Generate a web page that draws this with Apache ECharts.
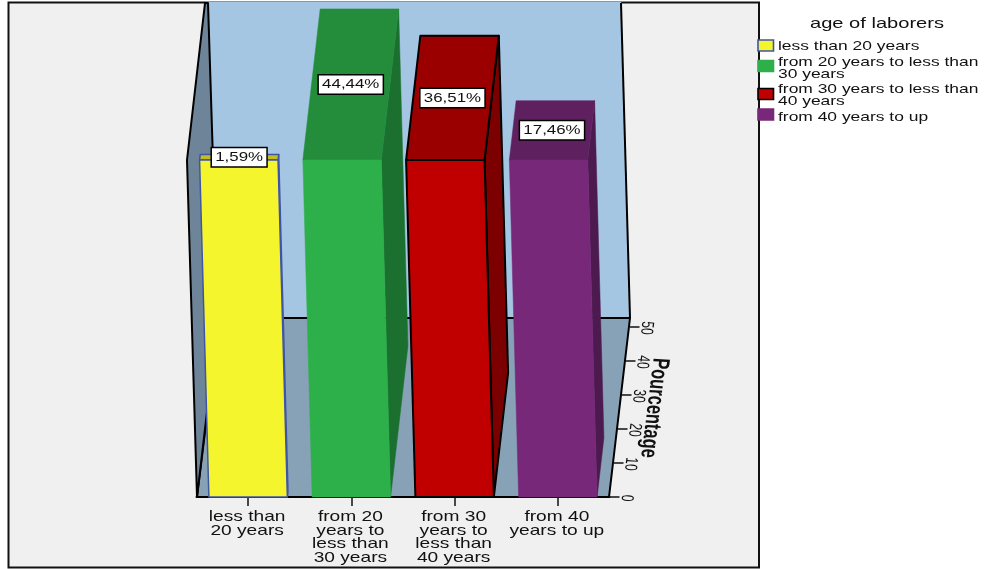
<!DOCTYPE html>
<html>
<head>
<meta charset="utf-8">
<style>html,body{margin:0;padding:0;background:#fff}#chart{width:985px;height:569px}</style>
<script src="https://cdn.jsdelivr.net/npm/echarts@6/dist/echarts.min.js"></script>
</head>
<body>
<div id="chart"></div>
<script>
// Age groups and their share of laborers, in percent
const categories = [
  'less than\n20 years',
  'from 20\nyears to\nless than\n30 years',
  'from 30\nyears to\nless than\n40 years',
  'from 40\nyears to up'
];
const legendNames = [
  'less than 20 years',
  'from 20 years to less than\n30 years',
  'from 30 years to less than\n40 years',
  'from 40 years to up'
];
const percentages = [1.59, 44.44, 36.51, 17.46];
const valueTicks = [0, 10, 20, 30, 40, 50];

// Face colours per bar
const frontColors = ['#f5f52e', '#2db04a', '#c00000', '#772878'];
const topColors = ['#c4bc22', '#238d3b', '#9b0000', '#5f2060'];
const sideColors = ['#3f55a5', '#1b702f', '#7c0000', '#4c1a4f'];
const outlineColors = ['#3f55a5', null, '#000000', null];

const FONT = '"Liberation Sans", Arial, sans-serif';
const STRETCH = 1.34;     // horizontal widening of flat text
const SCALE_STRETCH = 1.45; // widening of the text along the value scale
const FRONT_HEIGHT = 337; // height of each front face
const FRONT_LEAN = 9.3;   // sideways lean of the front face from base to top
const DEPTH_PER_UNIT = 0.39; // horizontal depth shift per percentage point
const SCALE_TILT = -95 * Math.PI / 180; // text along the slanted value scale

const FRAME = { x: 8.5, y: 2.5, w: 750.5, h: 565 };

function wideText(text, x, y, size, align) {
  return {
    type: 'text', x, y, scaleX: STRETCH, z: 20,
    style: {
      text, font: size + 'px ' + FONT, fill: '#111',
      align, verticalAlign: 'middle', lineHeight: 12
    }
  };
}

// Rotated text inside a horizontally stretched group, so its baseline follows the slant
function scaleText(text, x, y, font) {
  return {
    type: 'group', x, y, scaleX: SCALE_STRETCH,
    children: [{
      type: 'text', rotation: SCALE_TILT, z: 4,
      style: { text, font, fill: '#111', align: 'center', verticalAlign: 'middle' }
    }]
  };
}

function polygon(points, fill, stroke, z, width) {
  return {
    type: 'polygon', z, shape: { points },
    style: { fill, stroke: stroke || fill, lineWidth: stroke ? (width || 2) : 0.5, lineJoin: 'round' }
  };
}

// Panel and the three walls of the box
const backdrop = [
  { type: 'rect', z: 0, shape: { x: FRAME.x, y: FRAME.y, width: FRAME.w, height: FRAME.h },
    style: { fill: '#f0f0f0', stroke: '#111', lineWidth: 2 } },
  polygon([[207, 2], [621, 2], [630, 318], [218, 318]], '#a5c6e2', null, 1),
  polygon([[219, 318], [630, 318], [609, 497], [197, 497]], '#87a1b7', '#000', 1),
  polygon([[205, 3], [187, 160], [197, 497], [218, 318], [208, 3]], '#6e8599', '#000', 1),
  { type: 'polyline', z: 1, shape: { points: [[621, 3], [630, 318]] },
    style: { stroke: '#000', lineWidth: 2, fill: null } }
];

// Legend block on the right
const swatchTops = [40, 60.5, 88.5, 109];
const labelCentres = [46.5, 68.5, 95.5, 117];
const legendItems = [wideText('age of laborers', 877, 23.5, 15, 'center')];
legendNames.forEach((name, i) => {
  legendItems.push({
    type: 'rect', z: 20, shape: { x: 758, y: swatchTops[i], width: 15.5, height: 11 },
    style: { fill: frontColors[i], stroke: outlineColors[i] || frontColors[i], lineWidth: 1.6 }
  });
  legendItems.push(wideText(name, 778, labelCentres[i], 13, 'left'));
});

// One bar: front, top and side faces plus its boxed value label
function renderBar(params, api) {
  const i = api.value(0);
  const value = api.value(1);
  const halfWidth = api.size([1, 0])[0] * 0.38;
  const base = api.coord([i, 0]);
  const peak = api.coord([i, value]);
  const depth = value * DEPTH_PER_UNIT;
  const frontTopY = base[1] - FRONT_HEIGHT;
  const backTopY = peak[1] - FRONT_HEIGHT;
  const topCentre = base[0] - FRONT_LEAN;
  const outline = outlineColors[i];

  const fbl = [base[0] - halfWidth, base[1]];
  const fbr = [base[0] + halfWidth, base[1]];
  const ftl = [topCentre - halfWidth, frontTopY];
  const ftr = [topCentre + halfWidth, frontTopY];
  const btl = [ftl[0] + depth, backTopY];
  const btr = [ftr[0] + depth, backTopY];
  const fold = [fbr[0] + depth, peak[1]];

  const text = value.toFixed(2).replace('.', ',') + '%';
  const labelX = topCentre + depth / 2;
  const labelY = (frontTopY + backTopY) / 2;
  const size = echarts.format.getTextRect(text, '12.6px ' + FONT);
  const boxW = size.width * STRETCH + 8;
  const edgeWidth = i === 0 ? 1.5 : 2;

  return {
    type: 'group',
    children: [
      polygon([ftr, btr, fold, fbr], sideColors[i], outline, 6, edgeWidth),
      polygon([ftl, btl, btr, ftr], topColors[i], outline, 6, edgeWidth),
      polygon([fbl, ftl, ftr, fbr], frontColors[i], outline, 7, edgeWidth),
      { type: 'rect', z: 10, shape: { x: labelX - boxW / 2, y: labelY - 9.75, width: boxW, height: 19.5 },
        style: { fill: '#fff', stroke: '#000', lineWidth: 1.5 } },
      wideText(text, labelX, labelY + 0.5, 12.6, 'center')
    ]
  };
}

// Category names under the floor
function renderCategoryLabel(params, api) {
  const i = api.value(0);
  const pos = api.coord([i, 0]);
  const lines = categories[i].split('\n');
  return {
    type: 'group',
    children: lines.map((line, k) =>
      wideText(line, pos[0] - 1, pos[1] + 20 + k * 13.7, 14.3, 'center'))
  };
}

// Value scale running along the slanted right edge of the floor
function renderValueTick(params, api) {
  const v = api.value(0);
  const right = params.coordSys.x + params.coordSys.width;
  const y = api.coord([0, v])[1];
  const x = right + v * 0.4;
  return {
    type: 'group',
    children: [
      { type: 'line', z: 4, shape: { x1: x, y1: y, x2: x + 10, y2: y },
        style: { stroke: '#111', lineWidth: 1.5 } },
      scaleText(String(v), x + 17, y + 1, '12px ' + FONT)
    ]
  };
}

const chart = echarts.init(document.getElementById('chart'), null, { renderer: 'canvas' });
chart.setOption({
  animation: false,
  backgroundColor: '#fff',
  grid: { left: 196.5, top: 327, width: 413, height: 170 },
  xAxis: {
    type: 'category',
    data: categories,
    z: 2,
    axisLine: { lineStyle: { color: '#000', width: 2 } },
    axisTick: { show: true, length: 9, alignWithLabel: true, lineStyle: { color: '#111', width: 1.5 } },
    axisLabel: { show: false },
    splitLine: { show: false }
  },
  yAxis: { type: 'value', min: 0, max: 50, interval: 10, show: false },
  graphic: { elements: [...backdrop, ...legendItems,
    scaleText('Pourcentage', 654, 408, 'bold 16.5px ' + FONT)
  ] },
  series: [
    { type: 'custom', name: 'Percentage', z: 5, encode: { x: 0, y: 1 },
      data: percentages.map((v, i) => [i, v]), renderItem: renderBar },
    { type: 'custom', name: 'Categories', z: 5, encode: { x: 0 }, silent: true,
      data: categories.map((c, i) => [i]), renderItem: renderCategoryLabel },
    { type: 'custom', name: 'Value scale', z: 3, encode: { y: 0 }, silent: true,
      data: valueTicks.map(v => [v]), renderItem: renderValueTick }
  ]
});
</script>
</body>
</html>
